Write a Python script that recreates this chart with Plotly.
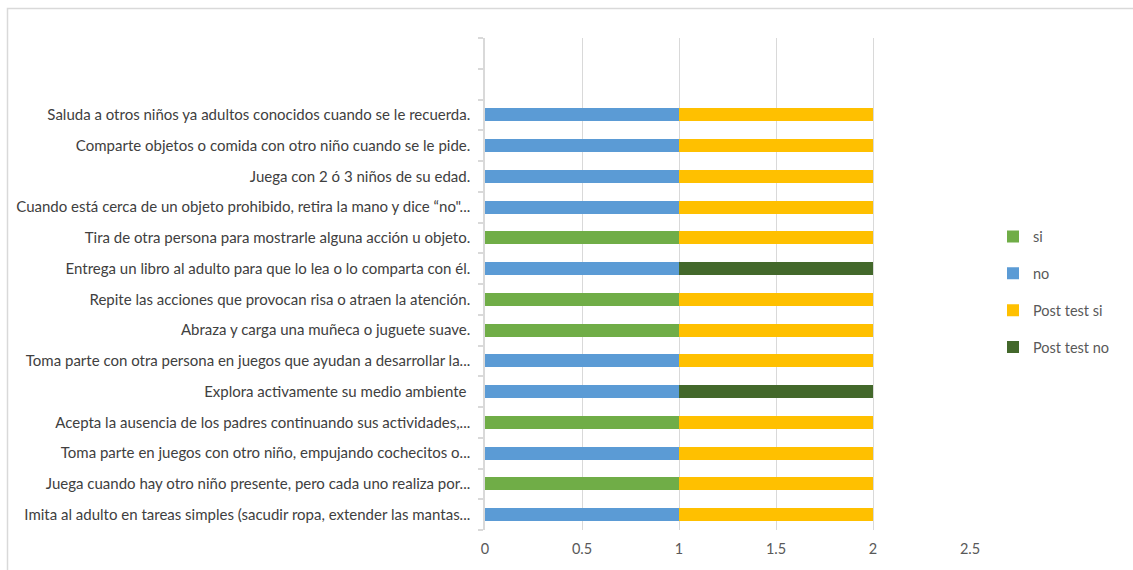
import plotly.graph_objects as go

categories = [
    "Imita al adulto en tareas simples (sacudir ropa, extender las mantas...",
    "Juega cuando hay otro niño presente, pero cada uno realiza por...",
    "Toma parte en juegos con otro niño, empujando cochecitos o...",
    "Acepta la ausencia de los padres continuando sus actividades,...",
    "Explora activamente su medio ambiente ",
    "Toma parte con otra persona en juegos que ayudan a desarrollar la...",
    "Abraza y carga una muñeca o juguete suave.",
    "Repite las acciones que provocan risa o atraen la atención.",
    "Entrega un libro al adulto para que lo lea o lo comparta con él.",
    "Tira de otra persona para mostrarle alguna acción u objeto.",
    "Cuando está cerca de un objeto prohibido, retira la mano y dice “no\"...",
    "Juega con 2 ó 3 niños de su edad.",
    "Comparte objetos o comida con otro niño cuando se le pide.",
    "Saluda a otros niños ya adultos conocidos cuando se le recuerda.",
]
si =           [None, 1, None, 1, None, None, 1, 1, None, 1, None, None, None, None]
no =           [1, None, 1, None, 1, 1, None, None, 1, None, 1, 1, 1, 1]
post_test_si = [1, 1, 1, 1, None, 1, 1, 1, None, 1, 1, 1, 1, 1]
post_test_no = [None, None, None, None, 1, None, None, None, 1, None, None, None, None, None]
x_ticks = [0, 0.5, 1, 1.5, 2, 2.5]
x_tick_labels = ["0", "0.5", "1", "1.5", "2", "2.5"]
n_slots = 16  # two empty category slots at the top

pos = list(range(len(categories)))
series = [
    ("si", si, "#70AD47"),
    ("no", no, "#5B9BD5"),
    ("Post test si", post_test_si, "#FFC000"),
    ("Post test no", post_test_no, "#43682B"),
]

FONT = "Lato, 'Liberation Sans', sans-serif"
fig = go.Figure()
for name, vals, color in series:
    fig.add_trace(go.Bar(
        y=pos, x=vals, name=name, orientation="h",
        marker=dict(color=color, line=dict(width=0)),
        legendgroup=name,
    ))

W, H = 1133, 570
L, R, T, B = 485, 163, 38, 40
pw, ph = W - L - R, H - T - B

def px_x(p):
    return (p - L) / pw

def px_y(p):
    return (H - B - p) / ph

fig.update_layout(
    width=W, height=H,
    margin=dict(l=L, r=R, t=T, b=B),
    barmode="stack", bargap=0.58,
    plot_bgcolor="white", paper_bgcolor="white",
    font=dict(family=FONT, size=15, color="#595959"),
    legend=dict(x=px_x(993), y=px_y(292), xanchor="left", yanchor="middle",
                traceorder="grouped", tracegroupgap=15,
                font=dict(size=14.5, color="#595959"), itemwidth=30),
    shapes=[dict(type="rect", xref="paper", yref="paper",
                 x0=px_x(7.5), x1=px_x(1140), y0=px_y(580), y1=px_y(8.5),
                 line=dict(color="#d9d9d9", width=1.5), layer="below")],
)
fig.update_xaxes(
    range=[0, 2.5], tickvals=x_ticks, ticktext=x_tick_labels,
    showgrid=True, gridcolor="#d9d9d9", gridwidth=1, zeroline=False,
    showline=False, ticks="", tickfont=dict(size=14.5, color="#595959"),
    ticklabelstandoff=8,
)
fig.update_yaxes(
    range=[-0.5, n_slots - 0.5], tickvals=pos, ticktext=categories,
    showgrid=False, zeroline=False, showline=True, linecolor="#d9d9d9", linewidth=1.5,
    ticks="", tickfont=dict(size=15, color="#404040"), ticklabelstandoff=10,
    minor=dict(tickmode="linear", tick0=-0.5, dtick=1, ticks="outside",
               ticklen=5, tickcolor="#d9d9d9", tickwidth=1.5, showgrid=False),
)
fig.write_html("out.html")
